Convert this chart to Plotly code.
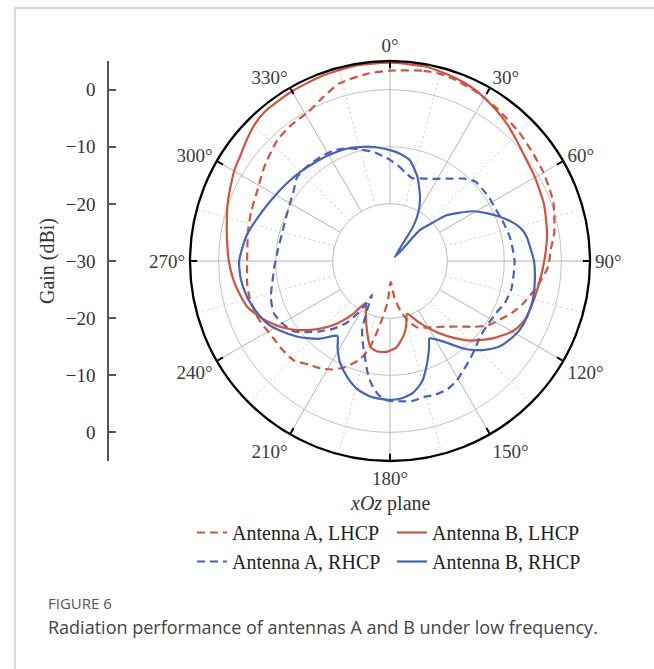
import plotly.graph_objects as go

W, H = 654, 669

# ---- measured patterns, xOz plane (angle in deg, gain in dBi) ----
theta_a_lhcp = [0, 10, 15, 20, 27, 35, 45, 52, 60, 70, 80, 86, 92, 100, 108, 113, 118, 123,
                128, 134, 140, 146, 152, 158, 163, 168, 173, 178, 183, 188, 193, 197, 203,
                208, 213, 218, 224, 230, 237, 247, 255, 261, 270, 282, 290, 298, 307, 317,
                324, 331, 338, 344, 353, 360]
gain_a_lhcp = [3.3, 3.8, 3.9, 3.7, 3.2, 2.6, 1.9, 1.4, 1.0, 0.4, -0.8, -1.8, -2.3, -3.9, -5.6,
               -6.8, -8.2, -9.4, -11.3, -13.5, -15.0, -16.0, -16.8, -17.5, -19.0, -21.0, -23.5,
               -26.3, -23.0, -19.5, -14.6, -12.0, -9.8, -8.5, -7.6, -7.0, -5.8, -5.6, -5.5,
               -4.8, -4.6, -4.7, -5.0, -4.6, -4.2, -3.7, -2.5, -1.1, -0.6, -0.3, 1.0, 2.3,
               3.0, 3.3]

theta_b_lhcp = [0, 10, 15, 20, 25, 30, 35, 40, 45, 50, 55, 60, 70, 80, 90, 100, 110, 115, 120,
                127, 135, 142, 148, 155, 162, 166, 170, 176, 182, 188, 193, 199, 205, 210,
                215, 220, 225, 230, 235, 240, 246, 252, 258, 263, 270, 280, 290, 300, 305,
                310, 315, 320, 330, 340, 350, 360]
gain_b_lhcp = [4.7, 4.6, 4.3, 4.0, 3.6, 3.0, 2.3, 1.6, 0.8, 0.1, -0.4, -0.7, -1.3, -2.1, -3.0,
               -3.7, -4.1, -4.4, -5.3, -7.5, -10.3, -13.2, -15.6, -18.2, -20.3, -18.3, -16.6,
               -14.8, -14.1, -14.0, -14.6, -17.5, -20.0, -21.5, -18.6, -15.8, -13.4, -11.2,
               -9.1, -7.3, -5.4, -3.8, -3.0, -2.4, -1.8, -1.0, 0.2, 1.5, 2.0, 2.8, 3.6, 4.1,
               4.3, 4.5, 4.7, 4.7]

theta_a_rhcp = [0, 5, 10, 15, 20, 26, 31, 36, 42, 47, 52, 58, 64, 70, 79, 90, 103, 110, 116,
                124, 130, 136, 141, 146, 151, 156, 162, 166, 171, 176, 181, 185, 188, 191,
                194, 198, 202, 205, 208, 209, 212, 215, 220, 225, 230, 234, 240, 246, 253,
                260, 268, 276, 285, 292, 300, 307, 312, 318, 326, 333, 339, 345, 352, 360]
gain_a_rhcp = [-12.3, -13.3, -14.3, -15.0, -14.6, -14.0, -13.2, -12.2, -10.6, -9.6, -9.5, -9.4,
               -9.4, -9.1, -8.6, -8.2, -8.2, -8.6, -9.3, -9.6, -9.4, -8.6, -7.8, -7.0, -6.0,
               -5.4, -5.3, -5.5, -5.2, -5.4, -5.6, -6.5, -7.9, -9.8, -12.2, -14.7, -17.0,
               -20.5, -23.3, -21.6, -19.0, -16.8, -14.5, -12.6, -10.6, -9.1, -8.2, -7.7,
               -8.2, -9.1, -9.8, -10.3, -10.5, -10.3, -9.8, -9.0, -8.1, -8.0, -8.1, -8.3,
               -8.9, -9.8, -10.8, -12.3]

theta_b_rhcp = [0, 5, 11, 18, 25, 30, 34, 36, 50, 45, 44, 48, 51, 55, 59, 64, 68, 72, 76, 80,
                86, 90, 96, 105, 112, 118, 123, 128, 132, 136, 140, 145, 150, 153, 156, 160,
                165, 170, 175, 181, 188, 194, 200, 206, 211, 215, 217, 222, 227, 231, 237,
                243, 250, 256, 263, 270, 280, 292, 300, 307, 315, 322, 330, 340, 350, 360]
gain_b_rhcp = [-10.6, -11.1, -12.0, -14.5, -17.6, -20.0, -22.8, -25.9, -28.9, -25.7, -22.5,
               -20.0, -17.3, -15.3, -13.1, -11.0, -9.3, -7.7, -6.4, -5.7, -5.2, -4.8, -4.5,
               -4.1, -4.1, -4.3, -4.9, -5.7, -6.9, -8.3, -10.0, -12.5, -14.2, -14.8, -13.2,
               -11.0, -8.2, -6.6, -5.9, -5.7, -6.0, -6.8, -8.3, -10.1, -12.2, -14.0, -13.6,
               -11.7, -10.2, -9.0, -7.4, -5.9, -4.9, -4.2, -3.7, -3.6, -4.5, -6.1, -6.9,
               -7.4, -7.9, -8.3, -8.6, -9.0, -9.7, -10.6]

angle_ticks = list(range(0, 360, 30))
angle_labels = [f"{a}°" for a in angle_ticks]
minor_spokes = list(range(15, 360, 30))
gain_tick_pos = [30, 20, 10, 0, -10, -20, -30]
gain_tick_text = ["0", "−10", "−20", "−30", "−20", "−10", "0"]

R_MIN, R_MAX, R_INNER = -30, 5, -20
RED = "#cf5440"
BLUE = "#4862b5"
GRID = "#c2c2c2"
TEXT = "#333333"
SERIF = "Liberation Serif"
DASH = "8px,5px"


def fx(px):
    return px / W


def fy(px):
    return 1 - px / H


fig = go.Figure()

# blank inner disk of the polar grid
disk_theta = list(range(0, 361, 2))
fig.add_trace(go.Scatterpolar(
    r=[R_INNER] * len(disk_theta), theta=disk_theta, mode="lines",
    fill="toself", fillcolor="white", line=dict(color=GRID, width=1),
    showlegend=False, hoverinfo="skip"))

# dotted spokes half-way between the labelled directions
spoke_r, spoke_t = [], []
for a in minor_spokes:
    spoke_r += [R_INNER, R_MAX, None]
    spoke_t += [a, a, None]
fig.add_trace(go.Scatterpolar(
    r=spoke_r, theta=spoke_t, mode="lines",
    line=dict(color="#cccccc", width=1, dash="2px,3px"),
    showlegend=False, hoverinfo="skip"))

series = [
    ("Antenna A, LHCP", theta_a_lhcp, gain_a_lhcp, RED, DASH, "legend"),
    ("Antenna B, LHCP", theta_b_lhcp, gain_b_lhcp, RED, "solid", "legend2"),
    ("Antenna A, RHCP", theta_a_rhcp, gain_a_rhcp, BLUE, DASH, "legend"),
    ("Antenna B, RHCP", theta_b_rhcp, gain_b_rhcp, BLUE, "solid", "legend2"),
]
for name, th, g, col, dash, leg in series:
    fig.add_trace(go.Scatterpolar(
        r=g, theta=th, mode="lines", name=name, legendgroup=name, legend=leg,
        line=dict(color=col, width=2.2, dash=dash, shape="spline", smoothing=0.6)))

# companion linear gain scale on the left
fig.add_trace(go.Scatter(
    x=[0] * len(gain_tick_pos), y=gain_tick_pos, mode="markers",
    marker=dict(opacity=0), showlegend=False, hoverinfo="skip"))

polar_y = [fy(461), fy(61)]
legend_font = dict(family=SERIF, size=20, color="#222222")

fig.update_layout(
    width=W, height=H, autosize=False,
    margin=dict(l=0, r=0, t=0, b=0),
    paper_bgcolor="white", plot_bgcolor="white",
    font=dict(family=SERIF, color=TEXT),
    polar=dict(
        domain=dict(x=[fx(190), fx(590)], y=polar_y),
        bgcolor="white",
        radialaxis=dict(range=[R_MIN, R_MAX], tickvals=[-20, -10, 0],
                        showticklabels=False, ticks="", showline=False,
                        gridcolor=GRID, gridwidth=1),
        angularaxis=dict(rotation=90, direction="clockwise",
                         tickvals=angle_ticks, ticktext=angle_labels,
                         tickfont=dict(family=SERIF, size=19, color="#3a3a3a"),
                         ticks="inside", ticklen=6, tickwidth=1.5, tickcolor="black",
                         showline=True, linecolor="black", linewidth=2.3,
                         gridcolor="#b5b5b5", gridwidth=1),
    ),
    xaxis=dict(domain=[fx(109), fx(150)], range=[0, 1], visible=False),
    yaxis=dict(domain=polar_y, range=[-35, 35], anchor="x", side="left",
               tickvals=gain_tick_pos, ticktext=gain_tick_text,
               ticks="inside", ticklen=7, tickwidth=1.5, tickcolor="#555555",
               showline=True, linecolor="#555555", linewidth=1.5,
               showgrid=False, zeroline=False, automargin=False,
               ticklabelstandoff=8,
               tickfont=dict(family=SERIF, size=19, color=TEXT),
               title=dict(text="Gain (dBi)", standoff=6,
                          font=dict(family=SERIF, size=20, color=TEXT))),
    legend=dict(x=fx(192), y=fy(513), xanchor="left", yanchor="top",
                traceorder="grouped", tracegroupgap=0, bgcolor="rgba(0,0,0,0)",
                font=legend_font),
    legend2=dict(x=fx(392), y=fy(513), xanchor="left", yanchor="top",
                 traceorder="grouped", tracegroupgap=0, bgcolor="rgba(0,0,0,0)",
                 font=legend_font),
    annotations=[
        dict(text="<i>xOz</i> plane", x=fx(390), y=fy(503), xref="paper", yref="paper",
             xanchor="center", yanchor="middle", showarrow=False,
             font=dict(family=SERIF, size=20, color=TEXT)),
        dict(text="FIGURE 6", x=fx(46), y=fy(603), xref="paper", yref="paper",
             xanchor="left", yanchor="middle", showarrow=False,
             font=dict(family="Open Sans", size=15, color="#555555")),
        dict(text="Radiation performance of antennas A and B under low frequency.",
             x=fx(46), y=fy(627), xref="paper", yref="paper",
             xanchor="left", yanchor="middle", showarrow=False,
             font=dict(family="Open Sans", size=18, color="#444444")),
    ],
    shapes=[
        dict(type="rect", xref="paper", yref="paper",
             x0=fx(15), y0=fy(8), x1=1.1, y1=-0.1,
             line=dict(color="#cccccc", width=1.5), layer="below"),
    ],
)

fig.write_html("out.html", config={"displayModeBar": False})
